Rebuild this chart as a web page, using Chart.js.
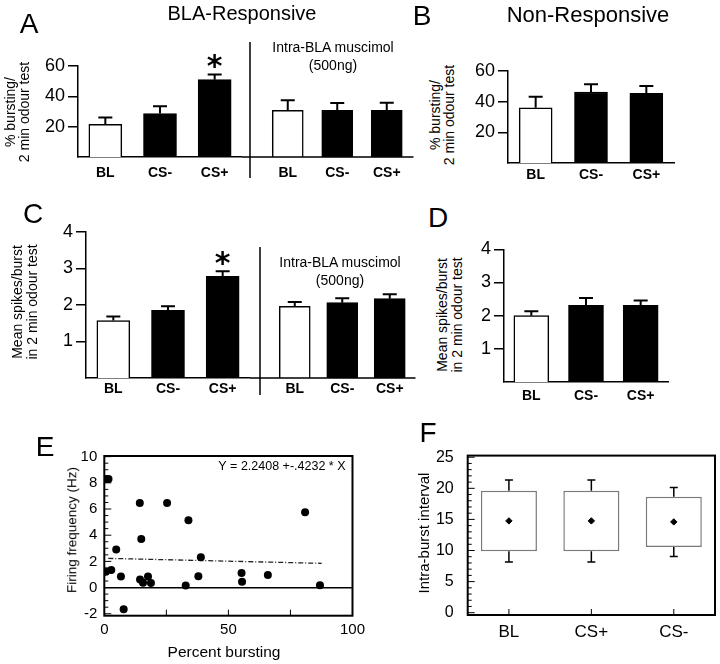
<!DOCTYPE html>
<html>
<head>
<meta charset="utf-8">
<script src="https://cdn.jsdelivr.net/npm/chart.js@4.4.1/dist/chart.umd.min.js"></script>
<style>
  body { margin: 0; background: #fff; }
  #fig { position: relative; width: 720px; height: 664px; overflow: hidden;
         font-family: 'Liberation Sans', Arial, sans-serif; color: #000; }
  canvas { position: absolute; }
  .t { position: absolute; white-space: nowrap; line-height: 1; transform: translate(-50%, -50%); text-align: center; }
  .r { transform: translate(-50%, -50%) rotate(-90deg); }
</style>
</head>
<body>
<div id="fig">
  <canvas id="cA1" width="242" height="160" style="left:0;top:30px"></canvas>
  <canvas id="cA2" width="178" height="160" style="left:242px;top:30px"></canvas>
  <canvas id="cB" width="220" height="150" style="left:470px;top:40px"></canvas>
  <canvas id="cC1" width="250" height="200" style="left:0;top:200px"></canvas>
  <canvas id="cC2" width="170" height="200" style="left:250px;top:200px"></canvas>
  <canvas id="cD" width="220" height="190" style="left:470px;top:220px"></canvas>
  <canvas id="cE" width="370" height="224" style="left:0;top:440px"></canvas>
  <canvas id="cF" width="340" height="224" style="left:380px;top:440px"></canvas>

  <div class="t" style="left:29px;top:24px;font-size:28px">A</div>
  <div class="t" style="left:242px;top:13px;font-size:20px">BLA-Responsive</div>
  <div class="t" style="left:422px;top:16px;font-size:28px">B</div>
  <div class="t" style="left:588px;top:15px;font-size:22px">Non-Responsive</div>
  <div class="t" style="left:333px;top:56px;font-size:14px;line-height:18px">Intra-BLA muscimol<br>(500ng)</div>
  <div class="t r" style="left:17px;top:112px;font-size:14px;line-height:14px">% bursting/<br>2 min odour test</div>
  <div class="t r" style="left:442px;top:115px;font-size:14px;line-height:14px">% bursting/<br>2 min odour test</div>

  <div class="t" style="left:33px;top:214px;font-size:28px">C</div>
  <div class="t" style="left:438px;top:218px;font-size:28px">D</div>
  <div class="t" style="left:340px;top:271px;font-size:14px;line-height:18px">Intra-BLA muscimol<br>(500ng)</div>
  <div class="t r" style="left:25px;top:302px;font-size:14px;line-height:15px">Mean spikes/burst<br>in 2 min odour test</div>
  <div class="t r" style="left:450px;top:315px;font-size:14px;line-height:15px">Mean spikes/burst<br>in 2 min odour test</div>

  <div class="t" style="left:45px;top:447px;font-size:28px">E</div>
  <div class="t r" style="left:72px;top:530px;font-size:13.5px">Firing frequency (Hz)</div>
  <div class="t" style="left:224px;top:652px;font-size:15.5px">Percent bursting</div>
  <div class="t" style="left:428px;top:433px;font-size:28px">F</div>
  <div class="t r" style="left:423px;top:533px;font-size:15px">Intra-burst interval</div>
</div>

<script>
const FONT = "'Liberation Sans', Arial, sans-serif";

// bar panels A-D
const barLabels = ['BL', 'CS-', 'CS+'];
const barFill = ['#fff', '#000', '#000'];
const burstTicks = [20, 40, 60];
const spikeTicks = [1, 2, 3, 4];

const burstA = [21.5, 28.6, 51.0];
const burstASem = [4.6, 4.8, 3.4];
const burstAStar = ['', '', '*'];
const burstAMus = [30.8, 30.8, 30.8];
const burstAMusSem = [6.7, 4.8, 5.0];

const burstB = [36.0, 46.3, 45.4];
const burstBSem = [7.2, 5.0, 4.8];

const spikesC = [1.57, 1.85, 2.78];
const spikesCSem = [0.11, 0.11, 0.14];
const spikesCStar = ['', '', '*'];
const spikesCMus = [1.96, 2.06, 2.17];
const spikesCMusSem = [0.12, 0.12, 0.12];

const spikesD = [2.0, 2.31, 2.31];
const spikesDSem = [0.13, 0.22, 0.15];

// panel E scatter
const burstPct = [0.9, 1.7, 0.6, 2.8, 4.8, 6.7, 7.8, 14.3, 14.9, 14.4, 15.6, 17.6, 18.8,
                  25.3, 33.9, 32.8, 38.9, 37.9, 55.3, 55.5, 65.9, 80.9, 86.9];
const firingHz = [8.3, 8.3, 1.2, 1.35, 2.9, 0.85, -1.65, 6.45, 3.7, 0.62, 0.37, 0.85, 0.35,
                  6.45, 5.15, 0.15, 2.32, 0.86, 1.11, 0.44, 0.96, 5.75, 0.17];
const fitX = [1.6, 87.6];
const fitY = [2.23, 1.85];
const eXTicks = [0, 50, 100];
const eYTicks = [-2, 0, 2, 4, 6, 8, 10];

// panel F box plot
const boxLabels = ['BL', 'CS+', 'CS-'];
const boxLow = [9.87, 9.87, 10.56];
const boxHigh = [19.59, 19.59, 18.65];
const whiskLow = [8.14, 8.14, 9.03];
const whiskHigh = [21.32, 21.32, 20.12];
const boxMean = [14.76, 14.76, 14.6];
const fYTicks = [0, 5, 10, 15, 20, 25];

Chart.defaults.font.family = FONT;
Chart.defaults.color = '#000';

const errorBars = {
  id: 'errorBars',
  afterDatasetsDraw(chart) {
    const ctx = chart.ctx, y = chart.scales.y;
    chart.data.datasets.forEach((ds, i) => {
      if (!ds.errors) return;
      chart.getDatasetMeta(i).data.forEach((bar, j) => {
        const top = y.getPixelForValue(ds.data[j] + ds.errors[j]);
        ctx.save();
        ctx.strokeStyle = '#000';
        ctx.lineWidth = 2;
        ctx.beginPath();
        ctx.moveTo(bar.x, bar.y);
        ctx.lineTo(bar.x, top);
        ctx.moveTo(bar.x - 7, top);
        ctx.lineTo(bar.x + 7, top);
        ctx.stroke();
        if (ds.stars && ds.stars[j]) {
          ctx.fillStyle = '#000';
          ctx.font = "bold 30px 'DejaVu Sans'";
          ctx.textAlign = 'center';
          ctx.textBaseline = 'alphabetic';
          const m = ctx.measureText(ds.stars[j]);
          const mid = (m.actualBoundingBoxDescent - m.actualBoundingBoxAscent) / 2;
          ctx.fillText(ds.stars[j], bar.x, top - 13 - mid);
        }
        ctx.restore();
      });
    });
  }
};

// baseline continuation and vertical divider for the muscimol half
const divider = {
  id: 'divider',
  afterDraw(chart, args, o) {
    const { ctx, chartArea: a } = chart;
    ctx.save();
    ctx.strokeStyle = '#000';
    ctx.lineWidth = 1.5;
    ctx.beginPath();
    ctx.moveTo(0, a.bottom);
    ctx.lineTo(a.right + 2, a.bottom);
    ctx.moveTo(o.x, o.top);
    ctx.lineTo(o.x, o.bottom);
    ctx.stroke();
    ctx.restore();
  }
};

function barChart(id, o) {
  return new Chart(document.getElementById(id), {
    type: 'bar',
    data: {
      labels: barLabels,
      datasets: [{
        data: o.values, errors: o.errors, stars: o.stars,
        backgroundColor: barFill, borderColor: '#000', borderWidth: 1.5,
        barThickness: o.barW
      }]
    },
    options: {
      responsive: false, animation: false, devicePixelRatio: 1,
      layout: { padding: o.pad },
      plugins: { legend: { display: false }, tooltip: { enabled: false },
                 divider: o.divider || {} },
      scales: {
        x: {
          grid: { display: false, drawTicks: false },
          border: { display: !o.divider, color: '#000', width: 1.5 },
          ticks: { color: '#000', padding: o.labelPad, font: { size: 14, weight: 'bold' } },
          afterFit: s => { s.height = o.xH; }
        },
        y: {
          display: !o.divider, min: 0, max: o.max,
          afterBuildTicks: s => { s.ticks = o.ticks.map(v => ({ value: v })); },
          afterFit: s => { s.width = o.yW; },
          grid: { drawOnChartArea: false, drawTicks: true, tickLength: 10, color: '#000', lineWidth: 1.5 },
          border: { color: '#000', width: 1.5 },
          ticks: { color: '#000', padding: 3, font: { size: 18 } }
        }
      }
    },
    plugins: o.divider ? [errorBars, divider] : [errorBars]
  });
}

barChart('cA1', { values: burstA, errors: burstASem, stars: burstAStar, max: 60, ticks: burstTicks,
  barW: 33, yW: 78, xH: 33, labelPad: 8, pad: { top: 36 } });
barChart('cA2', { values: burstAMus, errors: burstAMusSem, max: 60, ticks: burstTicks,
  barW: 31, yW: 0, xH: 33, labelPad: 8, pad: { top: 36, left: 21, right: 8.5 },
  divider: { x: 8, top: 12, bottom: 148 } });
barChart('cB', { values: burstB, errors: burstBSem, max: 60, ticks: burstTicks,
  barW: 33, yW: 38, xH: 27, labelPad: 4, pad: { top: 31, right: 16 } });
barChart('cC1', { values: spikesC, errors: spikesCSem, stars: spikesCStar, max: 4, ticks: spikeTicks,
  barW: 33, yW: 86, xH: 22, labelPad: 3, pad: { top: 31.7 } });
barChart('cC2', { values: spikesCMus, errors: spikesCMusSem, max: 4, ticks: spikeTicks,
  barW: 31, yW: 0, xH: 22, labelPad: 3, pad: { top: 31.7, left: 21, right: 6.5 },
  divider: { x: 10, top: 47, bottom: 195 } });
barChart('cD', { values: spikesD, errors: spikesDSem, max: 4, ticks: spikeTicks,
  barW: 35, yW: 34, xH: 28, labelPad: 6, pad: { top: 29.3, right: 22 } });

// frame with inward ticks for E and F
const frame = {
  id: 'frame',
  afterDraw(chart, args, o) {
    const { ctx, chartArea: a, scales } = chart;
    ctx.save();
    ctx.strokeStyle = '#000';
    ctx.lineWidth = 1;
    ctx.beginPath();
    for (let v = o.yFrom; v <= o.yTo + 1e-9; v += o.yStep) {
      const py = scales.y.getPixelForValue(v);
      const major = Math.abs(v / o.yMajor - Math.round(v / o.yMajor)) < 1e-6;
      ctx.moveTo(a.left, py);
      ctx.lineTo(a.left + (major ? 7 : 4), py);
    }
    if (o.xVals) {
      o.xVals.forEach(v => {
        const px = scales.x.getPixelForValue(v);
        ctx.moveTo(px, a.bottom);
        ctx.lineTo(px, a.bottom - 6);
      });
    } else {
      scales.x.ticks.forEach((t, i) => {
        const px = scales.x.getPixelForTick(i);
        ctx.moveTo(px, a.bottom);
        ctx.lineTo(px, a.bottom - 6);
      });
    }
    ctx.stroke();
    ctx.lineWidth = 2;
    ctx.strokeRect(a.left, a.top, a.right - a.left, a.bottom - a.top);
    ctx.restore();
  }
};

new Chart(document.getElementById('cE'), {
  type: 'scatter',
  data: {
    datasets: [
      { data: burstPct.map((x, i) => ({ x, y: firingHz[i] })),
        pointRadius: 4, backgroundColor: '#000', borderColor: '#000', borderWidth: 0 },
      { data: fitX.map((x, i) => ({ x, y: fitY[i] })), showLine: true,
        borderColor: '#222', borderWidth: 1.3, borderDash: [5, 2, 1, 2], pointRadius: 0 }
    ]
  },
  options: {
    responsive: false, animation: false, devicePixelRatio: 1,
    layout: { padding: { top: 11, right: 15.7 } },
    plugins: { legend: { display: false }, tooltip: { enabled: false },
               frame: { yFrom: -2, yTo: 10, yStep: 0.5, yMajor: 2, xVals: [25, 50, 75] } },
    scales: {
      x: {
        type: 'linear', min: 0, max: 100,
        afterBuildTicks: s => { s.ticks = eXTicks.map(v => ({ value: v })); },
        afterFit: s => { s.height = 48.3; },
        grid: { display: false, drawTicks: false }, border: { display: false },
        ticks: { color: '#000', padding: 5, font: { size: 15 } }
      },
      y: {
        min: -2.15, max: 10.05,
        afterBuildTicks: s => { s.ticks = eYTicks.map(v => ({ value: v })); },
        afterFit: s => { s.width = 104.3; },
        grid: { drawTicks: false, lineWidth: 1.5,
                color: c => (c.tick && c.tick.value === 0) ? '#000' : 'rgba(0,0,0,0)' },
        border: { display: false },
        ticks: { color: '#000', padding: 7, font: { size: 15 } }
      }
    }
  },
  plugins: [frame, {
    id: 'fitLabel',
    afterDraw(chart) {
      const { ctx, chartArea: a } = chart;
      ctx.save();
      ctx.fillStyle = '#000';
      ctx.font = "12.5px " + FONT;
      ctx.textAlign = 'right';
      ctx.textBaseline = 'middle';
      ctx.fillText('Y = 2.2408 +-.4232 * X', a.right - 7, a.top + 11);
      ctx.restore();
    }
  }]
});

const whiskers = {
  id: 'whiskers',
  afterDatasetsDraw(chart) {
    const ctx = chart.ctx, y = chart.scales.y;
    chart.data.datasets.forEach((ds, i) => {
      if (!ds.whiskLow) return;
      chart.getDatasetMeta(i).data.forEach((bar, j) => {
        const hi = y.getPixelForValue(ds.whiskHigh[j]);
        const lo = y.getPixelForValue(ds.whiskLow[j]);
        const top = y.getPixelForValue(ds.data[j][1]);
        const bot = y.getPixelForValue(ds.data[j][0]);
        ctx.save();
        ctx.strokeStyle = '#000';
        ctx.lineWidth = 1.5;
        ctx.beginPath();
        ctx.moveTo(bar.x, top); ctx.lineTo(bar.x, hi);
        ctx.moveTo(bar.x - 4, hi); ctx.lineTo(bar.x + 4, hi);
        ctx.moveTo(bar.x, bot); ctx.lineTo(bar.x, lo);
        ctx.moveTo(bar.x - 4, lo); ctx.lineTo(bar.x + 4, lo);
        ctx.stroke();
        ctx.restore();
      });
    });
  }
};

new Chart(document.getElementById('cF'), {
  type: 'bar',
  data: {
    labels: boxLabels,
    datasets: [
      { type: 'bar', data: boxLow.map((v, i) => [v, boxHigh[i]]), whiskLow, whiskHigh,
        backgroundColor: '#fff', borderColor: '#7a7a7a', borderWidth: 1.5, borderSkipped: false,
        barPercentage: 0.68, categoryPercentage: 1, order: 2 },
      { type: 'line', data: boxMean, showLine: false, pointStyle: 'rectRot', pointRadius: 3.2,
        backgroundColor: '#000', borderColor: '#000', order: 1 }
    ]
  },
  options: {
    responsive: false, animation: false, devicePixelRatio: 1,
    layout: { padding: { top: 12.3, right: 5 } },
    plugins: { legend: { display: false }, tooltip: { enabled: false },
               frame: { yFrom: 0, yTo: 25, yStep: 1, yMajor: 5 } },
    scales: {
      x: {
        afterFit: s => { s.height = 49; },
        grid: { display: false, drawTicks: false }, border: { display: false },
        ticks: { color: '#000', padding: 7, font: { size: 17 } }
      },
      y: {
        min: -0.37, max: 25.26,
        afterBuildTicks: s => { s.ticks = fYTicks.map(v => ({ value: v })); },
        afterFit: s => { s.width = 87.7; },
        grid: { display: false }, border: { display: false },
        ticks: { color: '#000', padding: 6, font: { size: 16 } }
      }
    }
  },
  plugins: [whiskers, frame]
});
</script>
</body>
</html>
